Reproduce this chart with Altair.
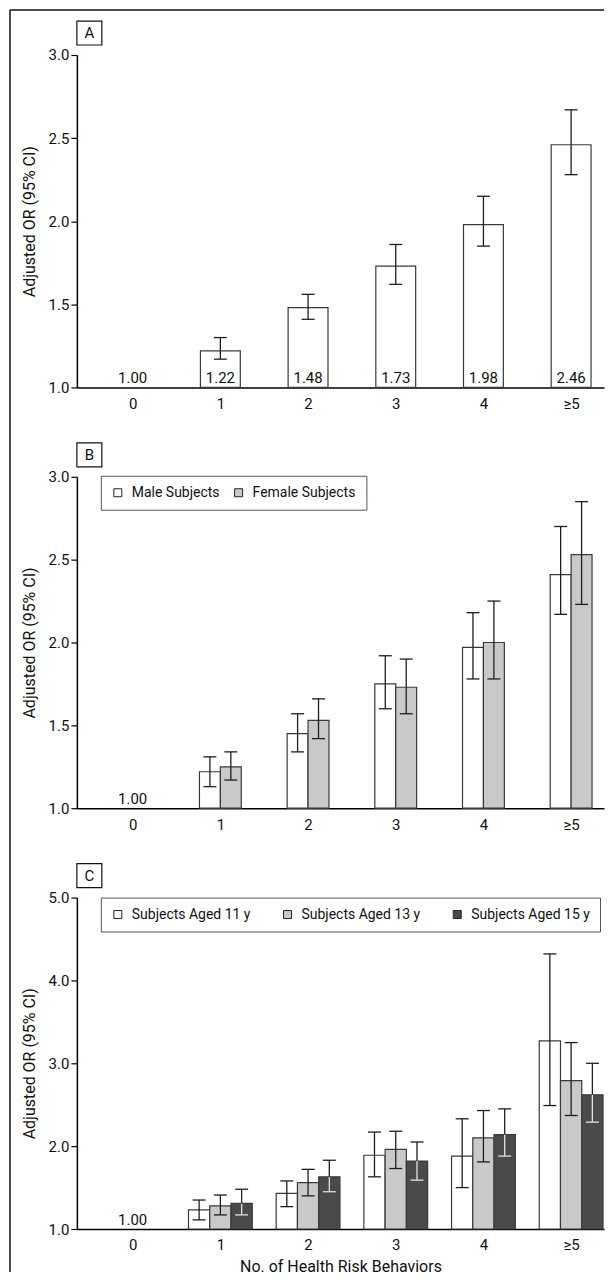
import json
import altair as alt
import pandas as pd

FONT = "Roboto"

cats = ["0", "1", "2", "3", "4", "≥5"]

# Panel A (all subjects)
all_or = [1.00, 1.22, 1.48, 1.73, 1.98, 2.46]
all_lo = [None, 1.17, 1.41, 1.62, 1.85, 2.28]
all_hi = [None, 1.30, 1.56, 1.86, 2.15, 2.67]

# Panel B (sex)
male_or = [1.00, 1.22, 1.45, 1.75, 1.97, 2.41]
male_lo = [None, 1.13, 1.34, 1.60, 1.78, 2.17]
male_hi = [None, 1.31, 1.57, 1.92, 2.18, 2.70]
female_or = [1.00, 1.25, 1.53, 1.73, 2.00, 2.53]
female_lo = [None, 1.17, 1.42, 1.57, 1.78, 2.23]
female_hi = [None, 1.34, 1.66, 1.90, 2.25, 2.85]

# Panel C (age)
a11_or = [1.00, 1.23, 1.43, 1.89, 1.88, 3.27]
a11_lo = [None, 1.11, 1.27, 1.63, 1.50, 2.49]
a11_hi = [None, 1.35, 1.58, 2.17, 2.33, 4.32]
a13_or = [1.00, 1.28, 1.56, 1.96, 2.10, 2.79]
a13_lo = [None, 1.17, 1.40, 1.73, 1.81, 2.37]
a13_hi = [None, 1.41, 1.72, 2.18, 2.43, 3.25]
a15_or = [1.00, 1.31, 1.63, 1.82, 2.14, 2.62]
a15_lo = [None, 1.17, 1.45, 1.59, 1.88, 2.29]
a15_hi = [None, 1.48, 1.83, 2.05, 2.45, 3.00]

A_groups = ["All Subjects"]
B_groups = ["Male Subjects", "Female Subjects"]
C_groups = ["Subjects Aged 11 y", "Subjects Aged 13 y", "Subjects Aged 15 y"]

WHITE, GRAY, DARK = "#ffffff", "#c9c9c9", "#4a4a4a"
INK = "#1e1e1e"
LIGHT_INK = "#e2e2e2"

W = 528                     # plot width in px
STEP = 88.0                 # px per category
X_DOMAIN = [-56 / STEP, 5 + 33 / STEP]
CAP = 13 / STEP


def long_df(groups, ors, los, his, light):
    rows = []
    for gi, (g, o, l, h) in enumerate(zip(groups, ors, los, his)):
        for c, v, lv, hv in zip(cats, o, l, h):
            rows.append({"cat": c, "pos": cats.index(c), "grp": g, "gi": gi,
                         "OR": v, "lo": lv, "hi": hv, "light": g in light})
    return pd.DataFrame(rows)


def panel(df, groups, fills, ymax, yvals, bar_px, height, letter,
          legend=None, xtitle=None, frame_bottom=None):
    n = len(groups)
    bw = bar_px / STEP
    label_expr = json.dumps(cats) + "[datum.value]"
    xaxis = alt.Axis(title=xtitle, values=list(range(len(cats))), labelExpr=label_expr,
                     labelAngle=0, ticks=False, tickSize=0, grid=False,
                     labelPadding=9, domainColor="black", domainWidth=1.5,
                     labelFontSize=15, labelColor="#111", titleFontSize=16,
                     titleFontWeight="normal", titleColor="#111", titlePadding=6)
    xscale = alt.Scale(domain=X_DOMAIN, nice=False, zero=False)
    yscale = alt.Scale(domain=[1, ymax], nice=False, zero=False)
    yaxis = alt.Axis(values=yvals, format=".1f", title="Adjusted OR (95% CI)",
                     grid=False, tickSize=6, tickColor="black", tickWidth=1.2,
                     domainColor="black", domainWidth=1.5, labelFontSize=15,
                     labelColor="#111", labelPadding=2, titleFontSize=16,
                     titleFontWeight="normal", titleColor="#111", titlePadding=11)

    base = alt.Chart(df).transform_calculate(
        xc=f"datum.pos + (datum.gi - {(n - 1) / 2}) * {bw}",
    ).transform_calculate(
        x1=f"datum.xc - {bw / 2}", x2=f"datum.xc + {bw / 2}",
        cl=f"datum.xc - {CAP / 2}", cr=f"datum.xc + {CAP / 2}",
    )
    withci = base.transform_filter("datum.lo != null")

    color = alt.Color("grp:N", sort=groups,
                      scale=alt.Scale(domain=groups, range=fills), legend=legend)
    bars = withci.mark_bar(stroke="#3a3a3a", strokeWidth=1.2).encode(
        x=alt.X("x1:Q", scale=xscale, axis=xaxis), x2="x2:Q",
        y=alt.Y("OR:Q", scale=yscale, axis=yaxis), y2=alt.Y2(datum=1),
        color=color)

    upper = withci.mark_rule(strokeWidth=1.3, color=INK).encode(
        x="xc:Q", y="OR:Q", y2="hi:Q")
    cap_hi = withci.mark_rule(strokeWidth=1.3, color=INK).encode(
        x="cl:Q", x2="cr:Q", y="hi:Q")
    dark_ci = withci.transform_filter("!datum.light")
    light_ci = withci.transform_filter("datum.light")
    lower_d = dark_ci.mark_rule(strokeWidth=1.3, color=INK).encode(
        x="xc:Q", y="lo:Q", y2="OR:Q")
    cap_lo_d = dark_ci.mark_rule(strokeWidth=1.3, color=INK).encode(
        x="cl:Q", x2="cr:Q", y="lo:Q")
    lower_l = light_ci.mark_rule(strokeWidth=1.3, color=LIGHT_INK).encode(
        x="xc:Q", y="lo:Q", y2="OR:Q")
    cap_lo_l = light_ci.mark_rule(strokeWidth=1.3, color=LIGHT_INK).encode(
        x="cl:Q", x2="cr:Q", y="lo:Q")

    if n == 1:
        lab_src = base
    else:
        lab_src = base.transform_filter("datum.pos == 0 && datum.gi == 0")
    labels = lab_src.transform_calculate(lx="datum.pos").mark_text(
        baseline="alphabetic", dy=-4, fontSize=15, color="#111").encode(
        x="lx:Q", y=alt.Y(datum=1), text=alt.Text("OR:Q", format=".2f"))

    tag_df = pd.DataFrame({"t": [letter]})
    tag_box = alt.Chart(tag_df).mark_rect(fill="white", stroke="#111",
                                          strokeWidth=1.2).encode(
        x=alt.value(0), x2=alt.value(25), y=alt.value(-34), y2=alt.value(-10))
    tag_txt = alt.Chart(tag_df).mark_text(fontSize=15, color="#111",
                                          baseline="middle").encode(
        text="t:N", x=alt.value(12.5), y=alt.value(-22))

    layers = [bars, lower_d, lower_l, upper, cap_lo_d, cap_lo_l, cap_hi,
              labels, tag_box, tag_txt]
    if frame_bottom is not None:
        top = alt.Chart(tag_df).mark_rule(color="#111", strokeWidth=1.5).encode(
            x=alt.value(-67), x2=alt.value(W), y=alt.value(-45))
        left = alt.Chart(tag_df).mark_rule(color="#111", strokeWidth=1.5).encode(
            x=alt.value(-67), y=alt.value(-45), y2=alt.value(frame_bottom))
        layers += [top, left]
    return alt.layer(*layers).properties(width=W, height=height)


dfA = long_df(A_groups, [all_or], [all_lo], [all_hi], [])
dfB = long_df(B_groups, [male_or, female_or], [male_lo, female_lo],
              [male_hi, female_hi], [])
dfC = long_df(C_groups, [a11_or, a13_or, a15_or], [a11_lo, a13_lo, a15_lo],
              [a11_hi, a13_hi, a15_hi], ["Subjects Aged 15 y"])


def mk_legend(col_pad, ly, fs):
    return alt.Legend(title=None, orient="none", legendX=24, legendY=ly,
                      direction="horizontal", symbolType="square", symbolSize=64,
                      symbolStrokeColor="#222", symbolStrokeWidth=1,
                      labelFontSize=fs, labelColor="#111", labelOffset=7,
                      strokeColor="#555", fillColor="white", padding=10,
                      columnPadding=col_pad)


pA = panel(dfA, A_groups, [WHITE], 3.0, [1.0, 1.5, 2.0, 2.5, 3.0],
           40, 333, "A", frame_bottom=1219)
pB = panel(dfB, B_groups, [WHITE, GRAY], 3.0, [1.0, 1.5, 2.0, 2.5, 3.0],
           21, 332, "B", legend=mk_legend(12, -1, 14))
pC = panel(dfC, C_groups, [WHITE, GRAY, DARK], 5.0, [1.0, 2.0, 3.0, 4.0, 5.0],
           64 / 3, 332, "C", legend=mk_legend(30, 0, 14),
           xtitle="No. of Health Risk Behaviors")

chart = alt.vconcat(pA, pB, pC, spacing=89.5, bounds="flush").resolve_scale(
    color="independent", x="independent", y="independent"
).resolve_legend(color="independent").properties(
    padding={"left": 1, "top": 0, "right": 0, "bottom": 0}
).configure(font=FONT).configure_view(stroke=None)

chart.save("out.html", embed_options={"renderer": "svg", "actions": False})
